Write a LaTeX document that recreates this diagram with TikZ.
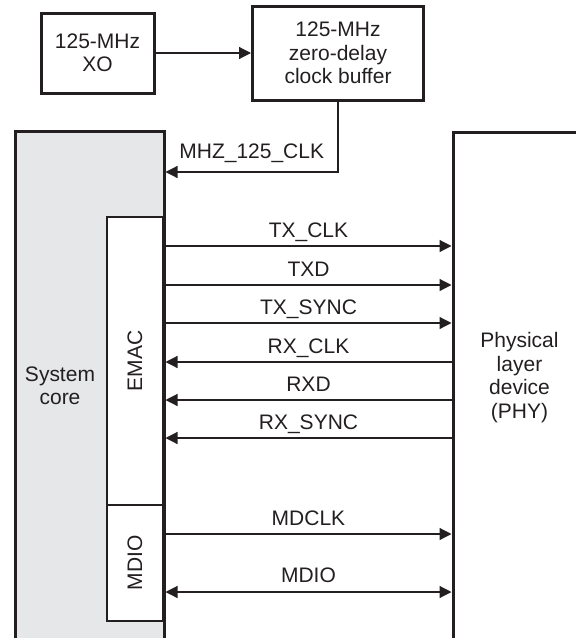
\documentclass[tikz,border=0pt]{standalone}
\usepackage{fontspec}
\setmainfont{Liberation Sans}
\usetikzlibrary{arrows.meta}
\definecolor{ink}{HTML}{231F20}
\definecolor{coregray}{HTML}{E6E7E8}
\begin{document}
\begin{tikzpicture}[x=1pt,y=1pt,
  every node/.style={text=ink, font=\fontsize{21}{23.5}\selectfont},
  thickbox/.style={draw=ink, line width=3pt, align=center, inner sep=0pt},
  thinbox/.style={draw=ink, line width=1.2pt, fill=white, inner sep=0pt},
  sig/.style={draw=ink, line width=1.2pt, >={Triangle[length=12pt,width=12pt]}, ->},
  lbl/.style={anchor=base, yshift=9pt}]
\useasboundingbox (0,0) rectangle (576,-638);
\clip (0,0) rectangle (576,-638);

% top boxes
\node[thickbox, minimum width=113pt, minimum height=80pt] (xo) at (97.5,-53) {125-MHz\\XO};
\node[thickbox, minimum width=171pt, minimum height=94pt] (buf) at (338,-53) {125-MHz\\zero-delay\\clock buffer};
\draw[sig] (xo.east) -- (buf.west);

% main blocks
\node[thickbox, fill=coregray, anchor=north west, minimum width=149pt, minimum height=600pt] (core) at (13.5,-130) {};
\node[thickbox, anchor=north west, minimum width=200pt, minimum height=600pt] (phy) at (451.5,-131) {};
\node[align=center] (coretxt) at (60,-386) {System\\core};
\node[align=center] (phytxt) at (519.5,-377.5) {Physical\\layer\\device\\(PHY)};

\node[thinbox, rotate=90, minimum width=288pt, minimum height=56pt] (emac) at (135,-361) {EMAC};
\node[thinbox, rotate=90, minimum width=116pt, minimum height=56pt] (mdio) at (135,-563) {MDIO};

% rows
\coordinate (mhz) at (0,-172);
\coordinate (r1) at (0,-246);
\coordinate (r2) at (0,-285);
\coordinate (r3) at (0,-323);
\coordinate (r4) at (0,-362);
\coordinate (r5) at (0,-400);
\coordinate (r6) at (0,-438);
\coordinate (r7) at (0,-534);
\coordinate (r8) at (0,-592);

\draw[sig] (buf.south) |- node[pos=0.75, anchor=base, yshift=14pt] {MHZ\_125\_CLK} (core.east |- mhz);

\draw[sig] (core.east |- r1) -- node[lbl] {TX\_CLK} (phy.west |- r1);
\draw[sig] (core.east |- r2) -- node[lbl] {TXD} (phy.west |- r2);
\draw[sig] (core.east |- r3) -- node[lbl] {TX\_SYNC} (phy.west |- r3);
\draw[sig] (phy.west |- r4) -- node[lbl] {RX\_CLK} (core.east |- r4);
\draw[sig] (phy.west |- r5) -- node[lbl] {RXD} (core.east |- r5);
\draw[sig] (phy.west |- r6) -- node[lbl] {RX\_SYNC} (core.east |- r6);
\draw[sig] (core.east |- r7) -- node[lbl] {MDCLK} (phy.west |- r7);
\draw[sig, <->] (core.east |- r8) -- node[lbl, yshift=1pt] {MDIO} (phy.west |- r8);
\end{tikzpicture}
\end{document}
